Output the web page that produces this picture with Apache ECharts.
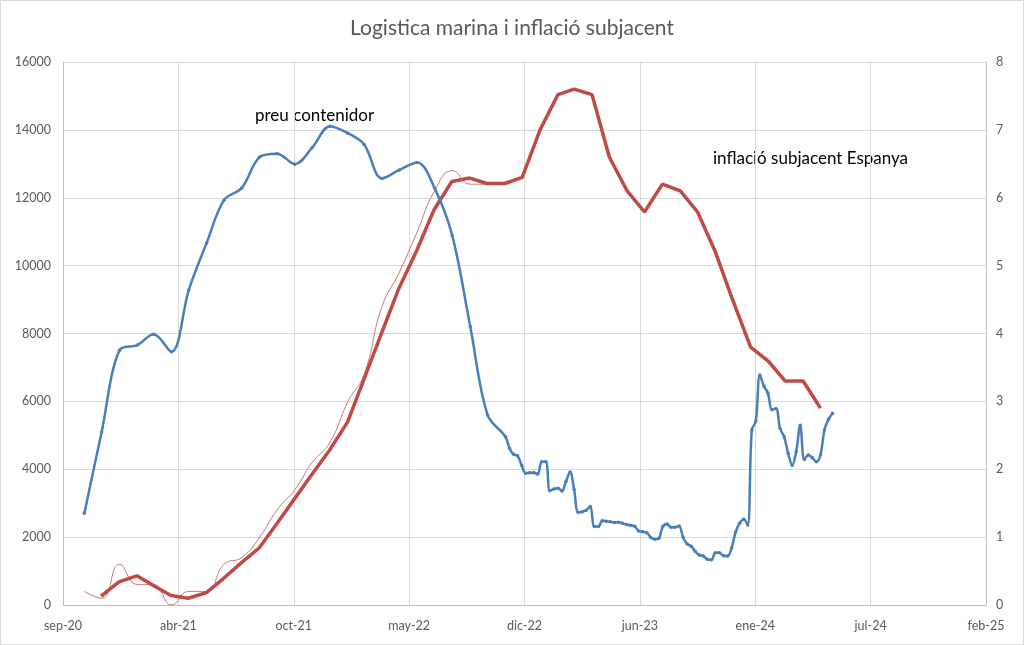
<!DOCTYPE html>
<html><head><meta charset="utf-8">
<script src="https://cdn.jsdelivr.net/npm/echarts@6/dist/echarts.min.js"></script>
<style>html,body{margin:0;padding:0;background:#fff}#c{width:1024px;height:645px}</style>
</head><body><div id="c"></div>
<script>
const chartTitle = 'Logistica marina i inflació subjacent';
const labelContainer = 'preu contenidor';
const labelInflation = 'inflació subjacent Espanya';
const xTickLabels = ['sep-20','abr-21','oct-21','may-22','dic-22','jun-23','ene-24','jul-24','feb-25'];
const axisStartDate = '2020-09-25';
const xTickStepDays = 200;

// Container price, monthly part
const containerMonthlyDates = ['2020-11-01','2020-12-01','2021-01-01','2021-02-01','2021-03-01','2021-04-01','2021-05-01','2021-06-01','2021-07-01','2021-08-01','2021-09-01','2021-10-01','2021-11-01','2021-12-01','2022-01-01','2022-02-01','2022-03-01','2022-04-01','2022-05-01','2022-06-01','2022-07-01','2022-08-01','2022-09-01','2022-10-01'];
const containerMonthlyValues = [2700,5100,7510,7660,7975,7460,9280,10670,11930,12290,13200,13300,12990,13480,14110,13900,13570,12570,12820,13040,12290,10870,8200,5600];
// Container price, weekly part (one value per week from this date)
const containerWeeklyStart = '2022-11-01';
const containerWeeklyValues = [4958,4620,4440,4400,4120,3880,3900,3900,3860,4220,4220,3370,3420,3440,3360,3650,3920,3400,2730,2750,2790,2900,2310,2310,2480,2470,2450,2430,2440,2410,2370,2350,2320,2180,2160,2130,1990,1935,1965,2320,2390,2290,2290,2330,1990,1800,1730,1580,1470,1445,1345,1330,1540,1540,1450,1445,1680,2150,2410,2530,2360,5160,5420,6780,6450,6240,5750,5790,5200,4960,4470,4120,4520,5300,4290,4420,4340,4220,4420,5160,5470,5650];

// Core inflation Spain (thick line), month-end dates
const coreThickDates = ['2020-11-30','2020-12-31','2021-01-31','2021-02-28','2021-03-31','2021-04-30','2021-05-31','2021-06-30','2021-07-31','2021-08-31','2021-09-30','2021-10-31','2021-11-30','2021-12-31','2022-01-31','2022-02-28','2022-03-31','2022-04-30','2022-05-31','2022-06-30','2022-07-31','2022-08-31','2022-09-30','2022-10-31','2022-11-30','2022-12-31','2023-01-31','2023-02-28','2023-03-31','2023-04-30','2023-05-31','2023-06-30','2023-07-31','2023-08-31','2023-09-30','2023-10-31','2023-11-30','2023-12-31','2024-01-31','2024-02-29','2024-03-31','2024-04-30'];
const coreThickValues = [0.13,0.34,0.43,0.29,0.14,0.10,0.18,0.39,0.62,0.84,1.19,1.56,1.92,2.28,2.69,3.31,4.0,4.66,5.22,5.82,6.24,6.29,6.21,6.21,6.3,7.0,7.52,7.6,7.52,6.6,6.1,5.79,6.2,6.1,5.79,5.2,4.49,3.8,3.59,3.3,3.3,2.9];

// Core inflation Spain (thin line), month-start dates
const coreThinDates = ['2020-11-01','2020-12-01','2021-01-01','2021-02-01','2021-03-01','2021-04-01','2021-05-01','2021-06-01','2021-07-01','2021-08-01','2021-09-01','2021-10-01','2021-11-01','2021-12-01','2022-01-01','2022-02-01','2022-03-01','2022-04-01','2022-05-01','2022-06-01','2022-07-01','2022-08-01','2022-09-01','2022-10-01'];
const coreThinValues = [0.2,0.1,0.6,0.3,0.3,0.0,0.2,0.2,0.6,0.7,1.0,1.4,1.7,2.1,2.4,3.0,3.4,4.4,4.9,5.5,6.1,6.4,6.2,6.2];

const DAY = 86400000;
const t0 = Date.parse(axisStartDate);
const dayOffset = d => (Date.parse(d) - t0) / DAY;

const blueData = containerMonthlyDates.map((d, i) => [dayOffset(d), containerMonthlyValues[i]]);
const wk0 = dayOffset(containerWeeklyStart);
containerWeeklyValues.forEach((v, i) => blueData.push([wk0 + 7 * i, v]));
const thickData = coreThickDates.map((d, i) => [dayOffset(d), coreThickValues[i]]);
const thinData = coreThinDates.map((d, i) => [dayOffset(d), coreThinValues[i]]);

const FONT = 'Lato, "Open Sans", sans-serif';
const gridColor = '#D9D9D9';
const labelColor = '#595959';

const chart = echarts.init(document.getElementById('c'), null, {renderer: 'canvas'});
chart.setOption({
  animation: false,
  backgroundColor: '#fff',
  title: {
    text: chartTitle, left: 'center', top: 13,
    textStyle: {fontFamily: FONT, fontSize: 21, fontWeight: 'normal', color: labelColor}
  },
  grid: {left: 63, right: 38, top: 62, bottom: 40},
  xAxis: {
    type: 'value', min: 0, max: xTickStepDays * (xTickLabels.length - 1), interval: xTickStepDays,
    axisLine: {show: true, lineStyle: {color: '#BFBFBF', width: 1}},
    axisTick: {show: false},
    splitLine: {show: true, lineStyle: {color: gridColor, width: 1}},
    axisLabel: {
      margin: 14, color: labelColor, fontFamily: FONT, fontSize: 12.5,
      formatter: v => xTickLabels[Math.round(v / xTickStepDays)] || ''
    }
  },
  yAxis: [
    {
      type: 'value', min: 0, max: 16000, interval: 2000,
      axisLine: {show: true, lineStyle: {color: '#BFBFBF'}},
      axisTick: {show: false},
      splitLine: {show: true, lineStyle: {color: gridColor, width: 1}},
      axisLabel: {margin: 12, color: labelColor, fontFamily: FONT, fontSize: 12.5, formatter: v => String(v)}
    },
    {
      type: 'value', min: 0, max: 8, interval: 1, position: 'right',
      axisLine: {show: true, lineStyle: {color: '#BFBFBF'}},
      axisTick: {show: false},
      splitLine: {show: false},
      axisLabel: {margin: 10, color: labelColor, fontFamily: FONT, fontSize: 12.5}
    }
  ],
  graphic: [
    {type: 'rect', shape: {x: 0.5, y: 0.5, width: 1023, height: 644}, style: {fill: 'none', stroke: '#D9D9D9', lineWidth: 1}, silent: true},
    {type: 'text', left: 255, top: 107, style: {text: labelContainer, fontSize: 17, fontFamily: FONT, fill: '#000'}},
    {type: 'text', left: 713, top: 150, style: {text: labelInflation, fontSize: 17, fontFamily: FONT, fill: '#000'}}
  ],
  series: [
    {
      name: 'thin', type: 'line', yAxisIndex: 1, data: thinData, smooth: 0.5,
      showSymbol: false, lineStyle: {color: '#D07571', width: 1}, z: 2
    },
    {
      name: 'thick', type: 'line', yAxisIndex: 1, data: thickData, smooth: false,
      showSymbol: false, lineStyle: {color: '#BE4B48', width: 3.5}, z: 3
    },
    {
      name: 'container', type: 'line', yAxisIndex: 0, data: blueData, smooth: 0.35,
      symbol: 'circle', symbolSize: 3.5, showSymbol: true,
      itemStyle: {color: '#4A7EBB'},
      lineStyle: {color: '#4A7EBB', width: 2.5}, z: 4
    }
  ]
});
</script></body></html>
